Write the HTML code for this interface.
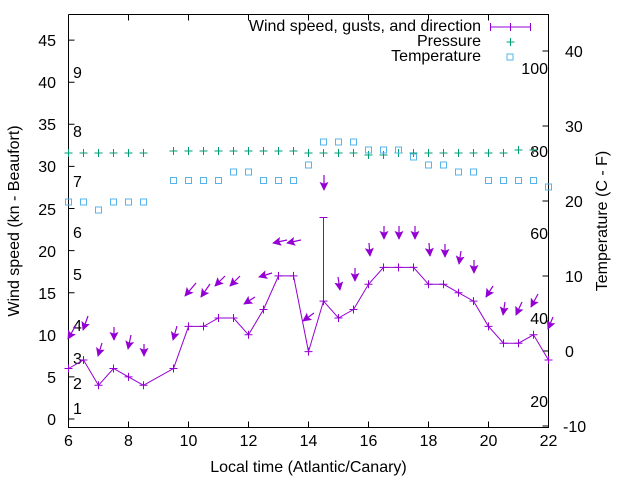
<!DOCTYPE html>
<html><head><meta charset="utf-8"><style>
html,body{margin:0;padding:0;background:#fff;}
svg{display:block;font-family:"Liberation Sans",sans-serif;}
</style></head><body>
<svg width="640" height="480" viewBox="0 0 640 480" xmlns="http://www.w3.org/2000/svg">
<defs>
<marker id="ah" viewBox="0 0 10 10" refX="9" refY="5" markerWidth="9" markerHeight="9" markerUnits="userSpaceOnUse" orient="auto">
<path d="M0,0 L10,5 L0,10 L2,5 z" fill="#9400d3"/>
</marker>
</defs>
<rect width="640" height="480" fill="#fff"/>
<g stroke="#000" stroke-width="1" fill="none">
<path d="M68.5,14.5 V427.5 H548.5 V14.5 H68.5"/>
<path d="M68.5,419 h6 M68.5,376.9 h6 M68.5,334.8 h6 M68.5,292.7 h6 M68.5,250.6 h6 M68.5,208.5 h6 M68.5,166.4 h6 M68.5,124.3 h6 M68.5,82.2 h6 M68.5,40.1 h6"/>
<path d="M128.5,427.5 v-6 M188.5,427.5 v-6 M248.5,427.5 v-6 M308.5,427.5 v-6 M368.5,427.5 v-6 M428.5,427.5 v-6 M488.5,427.5 v-6
M128.5,14.5 v6 M188.5,14.5 v6 M248.5,14.5 v6 M308.5,14.5 v6 M368.5,14.5 v6 M428.5,14.5 v6 M488.5,14.5 v6"/>
<path d="M548.5,426 h-6 M548.5,351 h-6 M548.5,276 h-6 M548.5,201 h-6 M548.5,126 h-6 M548.5,51 h-6"/>
</g>
<g font-size="16" fill="#000">
<g text-anchor="end">
<text x="56" y="425">0</text><text x="56" y="383">5</text><text x="56" y="341">10</text><text x="56" y="299">15</text><text x="56" y="257">20</text><text x="56" y="215">25</text><text x="56" y="172">30</text><text x="56" y="130">35</text><text x="56" y="88">40</text><text x="56" y="46">45</text>
</g>
<g text-anchor="middle">
<text x="68.5" y="446">6</text><text x="128.5" y="446">8</text><text x="188.5" y="446">10</text><text x="248.5" y="446">12</text><text x="308.5" y="446">14</text><text x="368.5" y="446">16</text><text x="428.5" y="446">18</text><text x="488.5" y="446">20</text><text x="548.5" y="446">22</text>
</g>
<g text-anchor="start">
<text x="563" y="432">-10</text><text x="565" y="357">0</text><text x="565" y="282">10</text><text x="565" y="207">20</text><text x="565" y="132">30</text><text x="565" y="57">40</text>
</g>
<g text-anchor="start">
<text x="73" y="414">1</text><text x="73" y="389">2</text><text x="73" y="364">3</text><text x="73" y="331">4</text><text x="73" y="280">5</text><text x="73" y="238">6</text><text x="73" y="187">7</text><text x="73" y="137">8</text><text x="73" y="78">9</text>
</g>
<g text-anchor="end">
<text x="548" y="74">100</text><text x="548" y="157">80</text><text x="548" y="239">60</text><text x="548" y="324">40</text><text x="548" y="407">20</text>
</g>
<text x="308.5" y="472" text-anchor="middle">Local time (Atlantic/Canary)</text>
<text transform="translate(19,221) rotate(-90)" text-anchor="middle">Wind speed (kn - Beaufort)</text>
<text transform="translate(607,221) rotate(-90)" text-anchor="middle">Temperature (C - F)</text>
</g>
<g font-size="16" fill="#000" text-anchor="end">
<text x="481" y="31">Wind speed, gusts, and direction</text>
<text x="481" y="46">Pressure</text>
<text x="481" y="61">Temperature</text>
</g>
<g stroke="#9400d3" stroke-width="1" fill="none">
<path d="M490.5,27 H530.5 M490.5,23 v8 M530.5,23 v8 M510.5,23 v8"/>
</g>
<g stroke="#009e73" fill="none"><path d="M510.5,38 v8 M506.5,42 h8"/></g>
<rect x="507" y="54" width="6" height="6" fill="none" stroke="#56b4e9"/>
<g stroke="#009e73" stroke-width="1" fill="none">
<path d="M68.5,149 v8 M64.5,153 h8 M83.5,149 v8 M79.5,153 h8 M98.5,149 v8 M94.5,153 h8 M113.5,149 v8 M109.5,153 h8 M128.5,149 v8 M124.5,153 h8 M143.5,149 v8 M139.5,153 h8
M173.5,147 v8 M169.5,151 h8 M188.5,147 v8 M184.5,151 h8 M203.5,147 v8 M199.5,151 h8 M218.5,147 v8 M214.5,151 h8 M233.5,147 v8 M229.5,151 h8 M248.5,147 v8 M244.5,151 h8 M263.5,147 v8 M259.5,151 h8 M278.5,147 v8 M274.5,151 h8 M293.5,147 v8 M289.5,151 h8
M308.5,149 v8 M304.5,153 h8 M323.5,149 v8 M319.5,153 h8 M338.5,149 v8 M334.5,153 h8 M353.5,149 v8 M349.5,153 h8 M368.5,151 v8 M364.5,155 h8 M383.5,151 v8 M379.5,155 h8 M398.5,149 v8 M394.5,153 h8 M413.5,149 v8 M409.5,153 h8 M428.5,149 v8 M424.5,153 h8 M443.5,149 v8 M439.5,153 h8 M458.5,149 v8 M454.5,153 h8 M473.5,149 v8 M469.5,153 h8 M488.5,149 v8 M484.5,153 h8 M503.5,149 v8 M499.5,153 h8 M518.5,146 v8 M514.5,150 h8 M533.5,146 v8 M529.5,150 h8"/>
</g>
<g stroke="#56b4e9" stroke-width="1" fill="none">
<rect x="65.5" y="199" width="6" height="6"/><rect x="80.5" y="199" width="6" height="6"/><rect x="95.5" y="207" width="6" height="6"/><rect x="110.5" y="199" width="6" height="6"/><rect x="125.5" y="199" width="6" height="6"/><rect x="140.5" y="199" width="6" height="6"/>
<rect x="170.5" y="177.5" width="6" height="6"/><rect x="185.5" y="177.5" width="6" height="6"/><rect x="200.5" y="177.5" width="6" height="6"/><rect x="215.5" y="177.5" width="6" height="6"/><rect x="230.5" y="169" width="6" height="6"/><rect x="245.5" y="169" width="6" height="6"/><rect x="260.5" y="177.5" width="6" height="6"/><rect x="275.5" y="177.5" width="6" height="6"/><rect x="290.5" y="177.5" width="6" height="6"/>
<rect x="305.5" y="162" width="6" height="6"/><rect x="320.5" y="139" width="6" height="6"/><rect x="335.5" y="139" width="6" height="6"/><rect x="350.5" y="139" width="6" height="6"/><rect x="365.5" y="147" width="6" height="6"/><rect x="380.5" y="147" width="6" height="6"/><rect x="395.5" y="147" width="6" height="6"/><rect x="410.5" y="154" width="6" height="6"/><rect x="425.5" y="162" width="6" height="6"/><rect x="440.5" y="162" width="6" height="6"/><rect x="455.5" y="169" width="6" height="6"/><rect x="470.5" y="169" width="6" height="6"/><rect x="485.5" y="177.5" width="6" height="6"/><rect x="500.5" y="177.5" width="6" height="6"/><rect x="515.5" y="177.5" width="6" height="6"/><rect x="530.5" y="177.5" width="6" height="6"/><rect x="545.5" y="184" width="6" height="6"/>
</g>
<g stroke="#9400d3" stroke-width="1" fill="none">
<polyline points="68.5,368.5 83.5,360 98.5,385.3 113.5,368.5 128.5,376.9 143.5,385.3 173.5,368.5 188.5,326.4 203.5,326.4 218.5,318 233.5,318 248.5,334.8 263.5,309.5 278.5,275.9 293.5,275.9 308.5,351.6 323.5,301.1 338.5,318 353.5,309.5 368.5,284.3 383.5,267.4 398.5,267.4 413.5,267.4 428.5,284.3 443.5,284.3 458.5,292.7 473.5,301.1 488.5,326.4 503.5,343.2 518.5,343.2 533.5,334.8 548.5,360"/>
<path d="M68.5,364.5v8M64.5,368.5h8 M83.5,356v8M79.5,360h8 M98.5,381.3v8M94.5,385.3h8 M113.5,364.5v8M109.5,368.5h8 M128.5,372.9v8M124.5,376.9h8 M143.5,381.3v8M139.5,385.3h8 M173.5,364.5v8M169.5,368.5h8 M188.5,322.4v8M184.5,326.4h8 M203.5,322.4v8M199.5,326.4h8 M218.5,314v8M214.5,318h8 M233.5,314v8M229.5,318h8 M248.5,330.8v8M244.5,334.8h8 M263.5,305.5v8M259.5,309.5h8 M278.5,271.9v8M274.5,275.9h8 M293.5,271.9v8M289.5,275.9h8 M308.5,347.6v8M304.5,351.6h8 M323.5,297.1v8M319.5,301.1h8 M338.5,314v8M334.5,318h8 M353.5,305.5v8M349.5,309.5h8 M368.5,280.3v8M364.5,284.3h8 M383.5,263.4v8M379.5,267.4h8 M398.5,263.4v8M394.5,267.4h8 M413.5,263.4v8M409.5,267.4h8 M428.5,280.3v8M424.5,284.3h8 M443.5,280.3v8M439.5,284.3h8 M458.5,288.7v8M454.5,292.7h8 M473.5,297.1v8M469.5,301.1h8 M488.5,322.4v8M484.5,326.4h8 M503.5,339.2v8M499.5,343.2h8 M518.5,339.2v8M514.5,343.2h8 M533.5,330.8v8M529.5,334.8h8 M548.5,356v8M544.5,360h8"/>
<path d="M323.5,301.1 V217.5 M319.5,217.5 h8"/>
</g>
<g stroke="#9400d3" stroke-width="1.2" fill="none" marker-end="url(#ah)">
<line x1="76" y1="325" x2="68" y2="339"/>
<line x1="88" y1="316" x2="83" y2="330"/>
<line x1="102" y1="343" x2="98" y2="356"/>
<line x1="114" y1="327" x2="114" y2="340"/>
<line x1="131" y1="335" x2="128" y2="349"/>
<line x1="144" y1="344" x2="144" y2="356"/>
<line x1="177" y1="326" x2="173" y2="340"/>
<line x1="196" y1="283" x2="185" y2="296"/>
<line x1="210" y1="284" x2="201" y2="297"/>
<line x1="225" y1="276" x2="215" y2="286"/>
<line x1="240" y1="276" x2="230" y2="286"/>
<line x1="255" y1="297" x2="244" y2="304"/>
<line x1="272" y1="273" x2="259" y2="277"/>
<line x1="287" y1="240" x2="273" y2="243"/>
<line x1="301" y1="240" x2="287" y2="243"/>
<line x1="314" y1="313" x2="303" y2="321"/>
<line x1="324" y1="175" x2="324" y2="190"/>
<line x1="338" y1="277" x2="340" y2="290"/>
<line x1="355" y1="268" x2="355" y2="281"/>
<line x1="369" y1="243" x2="370" y2="256"/>
<line x1="384" y1="226" x2="384" y2="239"/>
<line x1="399" y1="226" x2="399" y2="239"/>
<line x1="415" y1="226" x2="415" y2="239"/>
<line x1="429" y1="243" x2="430" y2="256"/>
<line x1="445" y1="244" x2="445" y2="257"/>
<line x1="461" y1="251" x2="459" y2="264"/>
<line x1="474" y1="260" x2="474" y2="273"/>
<line x1="493" y1="286" x2="486" y2="297"/>
<line x1="505" y1="302" x2="503" y2="315"/>
<line x1="522" y1="302" x2="516" y2="315"/>
<line x1="538" y1="294" x2="531" y2="307"/>
<line x1="553" y1="317" x2="548" y2="329"/>
</g>
</svg>
</body></html>
